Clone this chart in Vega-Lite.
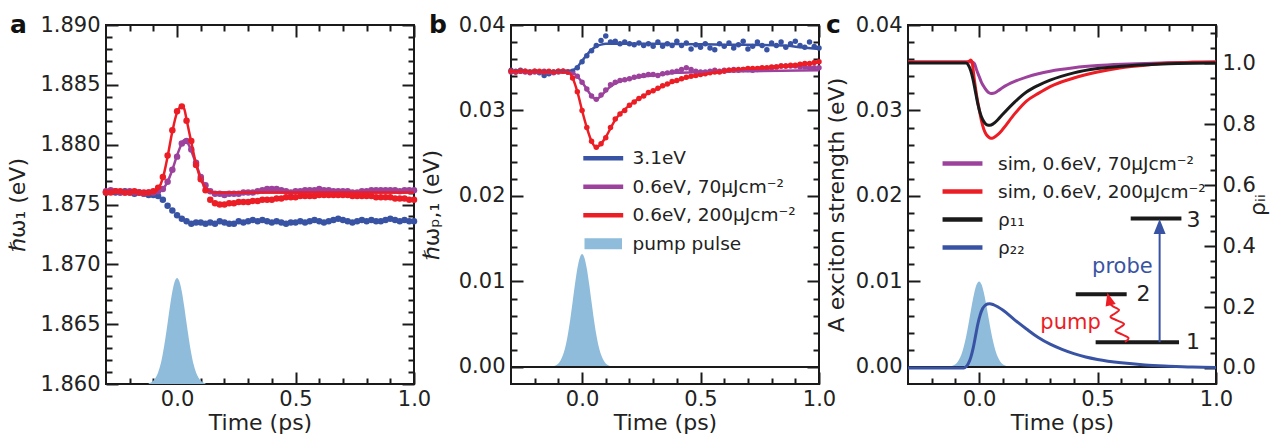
{
"$schema": "https://vega.github.io/schema/vega-lite/v6.json",
"background": "white",
"padding": {"left": 5, "right": 0, "top": 12, "bottom": 0},
"spacing": -13,
"resolve": {"scale": {"color": "independent", "fill": "independent"}, "legend": {"color": "independent", "fill": "independent"}},
"config": {
  "font": "DejaVu Sans",
  "view": {"stroke": "#1a1a1a", "strokeWidth": 2},
  "axis": {"grid": false, "domain": false, "labelFont": "DejaVu Sans", "labelFontSize": 21, "labelColor": "#222222", "titleFont": "DejaVu Sans", "titleFontSize": 22, "titleFontWeight": "normal", "titleColor": "#222222", "tickColor": "#1a1a1a", "tickWidth": 2, "labelOverlap": false, "labelFlush": false, "labelBound": false, "minExtent": 0, "labelPadding": 18},
  "legend": {"labelFont": "DejaVu Sans", "labelFontSize": 18.5, "labelColor": "#222222", "labelLimit": 400},
  "title": {"font": "DejaVu Sans", "fontSize": 25, "fontWeight": "bold", "color": "#111111", "anchor": "start", "frame": "group", "baseline": "alphabetic"}
},
"datasets": {
  "a_pulse": [
    {"t":-0.12,"v":1.86006},{"t":-0.11,"v":1.86013},{"t":-0.1,"v":1.86028},{"t":-0.09,"v":1.86054},{"t":-0.08,"v":1.86097},{"t":-0.07,"v":1.86162},{"t":-0.06,"v":1.86255},{"t":-0.05,"v":1.86373},{"t":-0.04,"v":1.86509},{"t":-0.03,"v":1.86649},{"t":-0.02,"v":1.86772},{"t":-0.01,"v":1.86856},{"t":0,"v":1.86886},
    {"t":0.01,"v":1.86856},{"t":0.02,"v":1.86772},{"t":0.03,"v":1.86649},{"t":0.04,"v":1.86509},{"t":0.05,"v":1.86373},{"t":0.06,"v":1.86255},{"t":0.07,"v":1.86162},{"t":0.08,"v":1.86097},{"t":0.09,"v":1.86054},{"t":0.1,"v":1.86028},{"t":0.11,"v":1.86013},{"t":0.12,"v":1.86006}
  ],
  "a_dots": [
    {"t":-0.3,"v":1.876,"s":"e31"},{"t":-0.28,"v":1.8761,"s":"e31"},{"t":-0.26,"v":1.876,"s":"e31"},{"t":-0.24,"v":1.876,"s":"e31"},{"t":-0.22,"v":1.8761,"s":"e31"},{"t":-0.2,"v":1.876,"s":"e31"},{"t":-0.18,"v":1.8759,"s":"e31"},{"t":-0.16,"v":1.876,"s":"e31"},{"t":-0.14,"v":1.8759,"s":"e31"},{"t":-0.12,"v":1.8758,"s":"e31"},{"t":-0.1,"v":1.8758,"s":"e31"},{"t":-0.08,"v":1.8757,"s":"e31"},{"t":-0.06,"v":1.8754,"s":"e31"},{"t":-0.04,"v":1.8749,"s":"e31"},{"t":-0.02,"v":1.8745,"s":"e31"},{"t":0,"v":1.8741,"s":"e31"},{"t":0.02,"v":1.8738,"s":"e31"},{"t":0.04,"v":1.8736,"s":"e31"},{"t":0.06,"v":1.8734,"s":"e31"},{"t":0.08,"v":1.8735,"s":"e31"},{"t":0.1,"v":1.8735,"s":"e31"},{"t":0.12,"v":1.8734,"s":"e31"},{"t":0.14,"v":1.8735,"s":"e31"},{"t":0.16,"v":1.8734,"s":"e31"},{"t":0.18,"v":1.8736,"s":"e31"},{"t":0.2,"v":1.8735,"s":"e31"},{"t":0.22,"v":1.8734,"s":"e31"},{"t":0.24,"v":1.8734,"s":"e31"},{"t":0.26,"v":1.8736,"s":"e31"},{"t":0.28,"v":1.8735,"s":"e31"},{"t":0.3,"v":1.8736,"s":"e31"},{"t":0.32,"v":1.8737,"s":"e31"},{"t":0.34,"v":1.8736,"s":"e31"},{"t":0.36,"v":1.8737,"s":"e31"},{"t":0.38,"v":1.8736,"s":"e31"},{"t":0.4,"v":1.8735,"s":"e31"},{"t":0.42,"v":1.8736,"s":"e31"},{"t":0.44,"v":1.8735,"s":"e31"},{"t":0.46,"v":1.8734,"s":"e31"},{"t":0.48,"v":1.8735,"s":"e31"},{"t":0.5,"v":1.8735,"s":"e31"},{"t":0.52,"v":1.8736,"s":"e31"},{"t":0.54,"v":1.8735,"s":"e31"},{"t":0.56,"v":1.8736,"s":"e31"},{"t":0.58,"v":1.8737,"s":"e31"},{"t":0.6,"v":1.8736,"s":"e31"},{"t":0.62,"v":1.8735,"s":"e31"},{"t":0.64,"v":1.8736,"s":"e31"},{"t":0.66,"v":1.8737,"s":"e31"},{"t":0.68,"v":1.8738,"s":"e31"},{"t":0.7,"v":1.8737,"s":"e31"},{"t":0.72,"v":1.8736,"s":"e31"},{"t":0.74,"v":1.8735,"s":"e31"},{"t":0.76,"v":1.8736,"s":"e31"},{"t":0.78,"v":1.8737,"s":"e31"},{"t":0.8,"v":1.8736,"s":"e31"},{"t":0.82,"v":1.8737,"s":"e31"},{"t":0.84,"v":1.8736,"s":"e31"},{"t":0.86,"v":1.8736,"s":"e31"},{"t":0.88,"v":1.8737,"s":"e31"},{"t":0.9,"v":1.8738,"s":"e31"},{"t":0.92,"v":1.8737,"s":"e31"},{"t":0.94,"v":1.8736,"s":"e31"},{"t":0.96,"v":1.8737,"s":"e31"},{"t":0.98,"v":1.8736,"s":"e31"},{"t":1,"v":1.8736,"s":"e31"},
    {"t":-0.3,"v":1.8761,"s":"p70"},{"t":-0.28,"v":1.8762,"s":"p70"},{"t":-0.26,"v":1.8761,"s":"p70"},{"t":-0.24,"v":1.876,"s":"p70"},{"t":-0.22,"v":1.876,"s":"p70"},{"t":-0.2,"v":1.8761,"s":"p70"},{"t":-0.18,"v":1.876,"s":"p70"},{"t":-0.16,"v":1.876,"s":"p70"},{"t":-0.14,"v":1.8759,"s":"p70"},{"t":-0.12,"v":1.876,"s":"p70"},{"t":-0.1,"v":1.876,"s":"p70"},{"t":-0.08,"v":1.8761,"s":"p70"},{"t":-0.06,"v":1.8763,"s":"p70"},{"t":-0.04,"v":1.8769,"s":"p70"},{"t":-0.02,"v":1.8779,"s":"p70"},{"t":0,"v":1.879,"s":"p70"},{"t":0.02,"v":1.8801,"s":"p70"},{"t":0.04,"v":1.8803,"s":"p70"},{"t":0.06,"v":1.8796,"s":"p70"},{"t":0.08,"v":1.8785,"s":"p70"},{"t":0.1,"v":1.8773,"s":"p70"},{"t":0.12,"v":1.8766,"s":"p70"},{"t":0.14,"v":1.8761,"s":"p70"},{"t":0.16,"v":1.8759,"s":"p70"},{"t":0.18,"v":1.8759,"s":"p70"},{"t":0.2,"v":1.8758,"s":"p70"},{"t":0.22,"v":1.8759,"s":"p70"},{"t":0.24,"v":1.8759,"s":"p70"},{"t":0.26,"v":1.8759,"s":"p70"},{"t":0.28,"v":1.876,"s":"p70"},{"t":0.3,"v":1.876,"s":"p70"},{"t":0.32,"v":1.876,"s":"p70"},{"t":0.34,"v":1.8761,"s":"p70"},{"t":0.36,"v":1.8762,"s":"p70"},{"t":0.38,"v":1.8763,"s":"p70"},{"t":0.4,"v":1.8763,"s":"p70"},{"t":0.42,"v":1.8763,"s":"p70"},{"t":0.44,"v":1.8762,"s":"p70"},{"t":0.46,"v":1.8761,"s":"p70"},{"t":0.48,"v":1.876,"s":"p70"},{"t":0.5,"v":1.8761,"s":"p70"},{"t":0.52,"v":1.8761,"s":"p70"},{"t":0.54,"v":1.8762,"s":"p70"},{"t":0.56,"v":1.8762,"s":"p70"},{"t":0.58,"v":1.8762,"s":"p70"},{"t":0.6,"v":1.8763,"s":"p70"},{"t":0.62,"v":1.8762,"s":"p70"},{"t":0.64,"v":1.8762,"s":"p70"},{"t":0.66,"v":1.8761,"s":"p70"},{"t":0.68,"v":1.8761,"s":"p70"},{"t":0.7,"v":1.8761,"s":"p70"},{"t":0.72,"v":1.8761,"s":"p70"},{"t":0.74,"v":1.876,"s":"p70"},{"t":0.76,"v":1.876,"s":"p70"},{"t":0.78,"v":1.8761,"s":"p70"},{"t":0.8,"v":1.8761,"s":"p70"},{"t":0.82,"v":1.8762,"s":"p70"},{"t":0.84,"v":1.8762,"s":"p70"},{"t":0.86,"v":1.8762,"s":"p70"},{"t":0.88,"v":1.8762,"s":"p70"},{"t":0.9,"v":1.8762,"s":"p70"},{"t":0.92,"v":1.8762,"s":"p70"},{"t":0.94,"v":1.8761,"s":"p70"},{"t":0.96,"v":1.8762,"s":"p70"},{"t":0.98,"v":1.8762,"s":"p70"},{"t":1,"v":1.8762,"s":"p70"},
    {"t":-0.3,"v":1.876,"s":"p200"},{"t":-0.28,"v":1.876,"s":"p200"},{"t":-0.26,"v":1.8761,"s":"p200"},{"t":-0.24,"v":1.8761,"s":"p200"},{"t":-0.22,"v":1.876,"s":"p200"},{"t":-0.2,"v":1.876,"s":"p200"},{"t":-0.18,"v":1.8761,"s":"p200"},{"t":-0.16,"v":1.876,"s":"p200"},{"t":-0.14,"v":1.876,"s":"p200"},{"t":-0.12,"v":1.876,"s":"p200"},{"t":-0.1,"v":1.8761,"s":"p200"},{"t":-0.08,"v":1.8764,"s":"p200"},{"t":-0.06,"v":1.8773,"s":"p200"},{"t":-0.04,"v":1.8791,"s":"p200"},{"t":-0.02,"v":1.8812,"s":"p200"},{"t":0,"v":1.8828,"s":"p200"},{"t":0.02,"v":1.8832,"s":"p200"},{"t":0.04,"v":1.882,"s":"p200"},{"t":0.06,"v":1.8803,"s":"p200"},{"t":0.08,"v":1.8783,"s":"p200"},{"t":0.1,"v":1.8771,"s":"p200"},{"t":0.12,"v":1.8762,"s":"p200"},{"t":0.14,"v":1.8754,"s":"p200"},{"t":0.16,"v":1.8751,"s":"p200"},{"t":0.18,"v":1.875,"s":"p200"},{"t":0.2,"v":1.875,"s":"p200"},{"t":0.22,"v":1.8751,"s":"p200"},{"t":0.24,"v":1.8751,"s":"p200"},{"t":0.26,"v":1.8752,"s":"p200"},{"t":0.28,"v":1.8752,"s":"p200"},{"t":0.3,"v":1.8752,"s":"p200"},{"t":0.32,"v":1.8753,"s":"p200"},{"t":0.34,"v":1.8753,"s":"p200"},{"t":0.36,"v":1.8754,"s":"p200"},{"t":0.38,"v":1.8754,"s":"p200"},{"t":0.4,"v":1.8754,"s":"p200"},{"t":0.42,"v":1.8755,"s":"p200"},{"t":0.44,"v":1.8755,"s":"p200"},{"t":0.46,"v":1.8756,"s":"p200"},{"t":0.48,"v":1.8756,"s":"p200"},{"t":0.5,"v":1.8756,"s":"p200"},{"t":0.52,"v":1.8757,"s":"p200"},{"t":0.54,"v":1.8757,"s":"p200"},{"t":0.56,"v":1.8757,"s":"p200"},{"t":0.58,"v":1.8757,"s":"p200"},{"t":0.6,"v":1.8758,"s":"p200"},{"t":0.62,"v":1.8758,"s":"p200"},{"t":0.64,"v":1.8758,"s":"p200"},{"t":0.66,"v":1.8758,"s":"p200"},{"t":0.68,"v":1.8758,"s":"p200"},{"t":0.7,"v":1.8758,"s":"p200"},{"t":0.72,"v":1.8758,"s":"p200"},{"t":0.74,"v":1.8757,"s":"p200"},{"t":0.76,"v":1.8757,"s":"p200"},{"t":0.78,"v":1.8757,"s":"p200"},{"t":0.8,"v":1.8757,"s":"p200"},{"t":0.82,"v":1.8757,"s":"p200"},{"t":0.84,"v":1.8756,"s":"p200"},{"t":0.86,"v":1.8756,"s":"p200"},{"t":0.88,"v":1.8756,"s":"p200"},{"t":0.9,"v":1.8756,"s":"p200"},{"t":0.92,"v":1.8755,"s":"p200"},{"t":0.94,"v":1.8755,"s":"p200"},{"t":0.96,"v":1.8755,"s":"p200"},{"t":0.98,"v":1.8754,"s":"p200"},{"t":1,"v":1.8754,"s":"p200"}
  ],
  "a_fit": [
    {"t":-0.3,"v":1.876,"s":"p70"},{"t":-0.1,"v":1.876,"s":"p70"},{"t":-0.08,"v":1.8761,"s":"p70"},{"t":-0.06,"v":1.8763,"s":"p70"},{"t":-0.04,"v":1.8769,"s":"p70"},{"t":-0.02,"v":1.8779,"s":"p70"},{"t":0,"v":1.8791,"s":"p70"},{"t":0.02,"v":1.8801,"s":"p70"},{"t":0.03,"v":1.8804,"s":"p70"},{"t":0.04,"v":1.8803,"s":"p70"},{"t":0.06,"v":1.8795,"s":"p70"},{"t":0.08,"v":1.8784,"s":"p70"},{"t":0.1,"v":1.8773,"s":"p70"},{"t":0.12,"v":1.8765,"s":"p70"},{"t":0.14,"v":1.8761,"s":"p70"},{"t":0.16,"v":1.876,"s":"p70"},{"t":1,"v":1.876,"s":"p70"},
    {"t":-0.3,"v":1.876,"s":"p200"},{"t":-0.1,"v":1.876,"s":"p200"},{"t":-0.08,"v":1.8763,"s":"p200"},{"t":-0.06,"v":1.8772,"s":"p200"},{"t":-0.04,"v":1.879,"s":"p200"},{"t":-0.02,"v":1.8811,"s":"p200"},{"t":0,"v":1.8827,"s":"p200"},{"t":0.02,"v":1.8832,"s":"p200"},{"t":0.03,"v":1.883,"s":"p200"},{"t":0.04,"v":1.8821,"s":"p200"},{"t":0.06,"v":1.8802,"s":"p200"},{"t":0.08,"v":1.8784,"s":"p200"},{"t":0.1,"v":1.8771,"s":"p200"},{"t":0.12,"v":1.8764,"s":"p200"},{"t":0.14,"v":1.8761,"s":"p200"},{"t":0.16,"v":1.876,"s":"p200"},{"t":1,"v":1.876,"s":"p200"}
  ],
  "b_pulse": [
    {"t":-0.12,"v":0.00009,"s":"pulse"},{"t":-0.11,"v":0.0002,"s":"pulse"},{"t":-0.1,"v":0.00041,"s":"pulse"},{"t":-0.09,"v":0.0008,"s":"pulse"},{"t":-0.08,"v":0.00144,"s":"pulse"},{"t":-0.07,"v":0.00242,"s":"pulse"},{"t":-0.06,"v":0.0038,"s":"pulse"},{"t":-0.05,"v":0.00556,"s":"pulse"},{"t":-0.04,"v":0.00759,"s":"pulse"},{"t":-0.03,"v":0.00966,"s":"pulse"},{"t":-0.02,"v":0.0115,"s":"pulse"},{"t":-0.01,"v":0.01275,"s":"pulse"},{"t":0,"v":0.0132,"s":"pulse"},
    {"t":0.01,"v":0.01275,"s":"pulse"},{"t":0.02,"v":0.0115,"s":"pulse"},{"t":0.03,"v":0.00966,"s":"pulse"},{"t":0.04,"v":0.00759,"s":"pulse"},{"t":0.05,"v":0.00556,"s":"pulse"},{"t":0.06,"v":0.0038,"s":"pulse"},{"t":0.07,"v":0.00242,"s":"pulse"},{"t":0.08,"v":0.00144,"s":"pulse"},{"t":0.09,"v":0.0008,"s":"pulse"},{"t":0.1,"v":0.00041,"s":"pulse"},{"t":0.11,"v":0.0002,"s":"pulse"},{"t":0.12,"v":0.00009,"s":"pulse"}
  ],
  "b_dots": [
    {"t":-0.3,"v":0.0347,"s":"e31"},{"t":-0.28,"v":0.0346,"s":"e31"},{"t":-0.26,"v":0.0347,"s":"e31"},{"t":-0.24,"v":0.0346,"s":"e31"},{"t":-0.22,"v":0.0345,"s":"e31"},{"t":-0.2,"v":0.0346,"s":"e31"},{"t":-0.18,"v":0.0344,"s":"e31"},{"t":-0.16,"v":0.0341,"s":"e31"},{"t":-0.14,"v":0.0343,"s":"e31"},{"t":-0.12,"v":0.0345,"s":"e31"},{"t":-0.1,"v":0.0346,"s":"e31"},{"t":-0.08,"v":0.0346,"s":"e31"},{"t":-0.06,"v":0.0345,"s":"e31"},{"t":-0.04,"v":0.0346,"s":"e31"},{"t":-0.02,"v":0.035,"s":"e31"},{"t":0,"v":0.0357,"s":"e31"},{"t":0.02,"v":0.0364,"s":"e31"},{"t":0.04,"v":0.037,"s":"e31"},{"t":0.06,"v":0.0376,"s":"e31"},{"t":0.08,"v":0.0382,"s":"e31"},{"t":0.1,"v":0.0387,"s":"e31"},{"t":0.12,"v":0.038,"s":"e31"},{"t":0.14,"v":0.0381,"s":"e31"},{"t":0.16,"v":0.0378,"s":"e31"},{"t":0.18,"v":0.038,"s":"e31"},{"t":0.2,"v":0.0378,"s":"e31"},{"t":0.22,"v":0.0377,"s":"e31"},{"t":0.24,"v":0.0379,"s":"e31"},{"t":0.26,"v":0.0376,"s":"e31"},{"t":0.28,"v":0.0378,"s":"e31"},{"t":0.3,"v":0.0375,"s":"e31"},{"t":0.32,"v":0.038,"s":"e31"},{"t":0.34,"v":0.0375,"s":"e31"},{"t":0.36,"v":0.0378,"s":"e31"},{"t":0.38,"v":0.0376,"s":"e31"},{"t":0.4,"v":0.0381,"s":"e31"},{"t":0.42,"v":0.0376,"s":"e31"},{"t":0.44,"v":0.0379,"s":"e31"},{"t":0.46,"v":0.0372,"s":"e31"},{"t":0.48,"v":0.0377,"s":"e31"},{"t":0.5,"v":0.0374,"s":"e31"},{"t":0.52,"v":0.0378,"s":"e31"},{"t":0.54,"v":0.0373,"s":"e31"},{"t":0.56,"v":0.0371,"s":"e31"},{"t":0.58,"v":0.0378,"s":"e31"},{"t":0.6,"v":0.0375,"s":"e31"},{"t":0.62,"v":0.0379,"s":"e31"},{"t":0.64,"v":0.0373,"s":"e31"},{"t":0.66,"v":0.0377,"s":"e31"},{"t":0.68,"v":0.0381,"s":"e31"},{"t":0.7,"v":0.0372,"s":"e31"},{"t":0.72,"v":0.0375,"s":"e31"},{"t":0.74,"v":0.038,"s":"e31"},{"t":0.76,"v":0.0376,"s":"e31"},{"t":0.78,"v":0.0371,"s":"e31"},{"t":0.8,"v":0.0379,"s":"e31"},{"t":0.82,"v":0.0376,"s":"e31"},{"t":0.84,"v":0.038,"s":"e31"},{"t":0.86,"v":0.0374,"s":"e31"},{"t":0.88,"v":0.0378,"s":"e31"},{"t":0.9,"v":0.0381,"s":"e31"},{"t":0.92,"v":0.0376,"s":"e31"},{"t":0.94,"v":0.0374,"s":"e31"},{"t":0.96,"v":0.038,"s":"e31"},{"t":0.98,"v":0.0375,"s":"e31"},{"t":1,"v":0.0373,"s":"e31"},
    {"t":-0.3,"v":0.0345,"s":"p70"},{"t":-0.28,"v":0.0345,"s":"p70"},{"t":-0.26,"v":0.0346,"s":"p70"},{"t":-0.24,"v":0.0345,"s":"p70"},{"t":-0.22,"v":0.0344,"s":"p70"},{"t":-0.2,"v":0.0345,"s":"p70"},{"t":-0.18,"v":0.0345,"s":"p70"},{"t":-0.16,"v":0.0346,"s":"p70"},{"t":-0.14,"v":0.0345,"s":"p70"},{"t":-0.12,"v":0.0344,"s":"p70"},{"t":-0.1,"v":0.0345,"s":"p70"},{"t":-0.08,"v":0.0346,"s":"p70"},{"t":-0.06,"v":0.0345,"s":"p70"},{"t":-0.04,"v":0.0344,"s":"p70"},{"t":-0.02,"v":0.034,"s":"p70"},{"t":0,"v":0.0333,"s":"p70"},{"t":0.02,"v":0.0325,"s":"p70"},{"t":0.04,"v":0.0317,"s":"p70"},{"t":0.06,"v":0.0313,"s":"p70"},{"t":0.08,"v":0.0318,"s":"p70"},{"t":0.1,"v":0.0324,"s":"p70"},{"t":0.12,"v":0.033,"s":"p70"},{"t":0.14,"v":0.0333,"s":"p70"},{"t":0.16,"v":0.0335,"s":"p70"},{"t":0.18,"v":0.0336,"s":"p70"},{"t":0.2,"v":0.0337,"s":"p70"},{"t":0.22,"v":0.0339,"s":"p70"},{"t":0.24,"v":0.034,"s":"p70"},{"t":0.26,"v":0.0341,"s":"p70"},{"t":0.28,"v":0.0342,"s":"p70"},{"t":0.3,"v":0.0342,"s":"p70"},{"t":0.32,"v":0.0341,"s":"p70"},{"t":0.34,"v":0.0343,"s":"p70"},{"t":0.36,"v":0.0344,"s":"p70"},{"t":0.38,"v":0.0345,"s":"p70"},{"t":0.4,"v":0.0346,"s":"p70"},{"t":0.42,"v":0.0348,"s":"p70"},{"t":0.44,"v":0.035,"s":"p70"},{"t":0.46,"v":0.0348,"s":"p70"},{"t":0.48,"v":0.0346,"s":"p70"},{"t":0.5,"v":0.0345,"s":"p70"},{"t":0.52,"v":0.0345,"s":"p70"},{"t":0.54,"v":0.0346,"s":"p70"},{"t":0.56,"v":0.0347,"s":"p70"},{"t":0.58,"v":0.0346,"s":"p70"},{"t":0.6,"v":0.0347,"s":"p70"},{"t":0.62,"v":0.0347,"s":"p70"},{"t":0.64,"v":0.0348,"s":"p70"},{"t":0.66,"v":0.0347,"s":"p70"},{"t":0.68,"v":0.0348,"s":"p70"},{"t":0.7,"v":0.0348,"s":"p70"},{"t":0.72,"v":0.0347,"s":"p70"},{"t":0.74,"v":0.0348,"s":"p70"},{"t":0.76,"v":0.0349,"s":"p70"},{"t":0.78,"v":0.0349,"s":"p70"},{"t":0.8,"v":0.035,"s":"p70"},{"t":0.82,"v":0.0351,"s":"p70"},{"t":0.84,"v":0.0352,"s":"p70"},{"t":0.86,"v":0.0352,"s":"p70"},{"t":0.88,"v":0.0352,"s":"p70"},{"t":0.9,"v":0.0352,"s":"p70"},{"t":0.92,"v":0.0351,"s":"p70"},{"t":0.94,"v":0.0351,"s":"p70"},{"t":0.96,"v":0.035,"s":"p70"},{"t":0.98,"v":0.035,"s":"p70"},{"t":1,"v":0.035,"s":"p70"},
    {"t":-0.3,"v":0.0346,"s":"p200"},{"t":-0.28,"v":0.0345,"s":"p200"},{"t":-0.26,"v":0.0346,"s":"p200"},{"t":-0.24,"v":0.0346,"s":"p200"},{"t":-0.22,"v":0.0345,"s":"p200"},{"t":-0.2,"v":0.0346,"s":"p200"},{"t":-0.18,"v":0.0346,"s":"p200"},{"t":-0.16,"v":0.0345,"s":"p200"},{"t":-0.14,"v":0.0346,"s":"p200"},{"t":-0.12,"v":0.0345,"s":"p200"},{"t":-0.1,"v":0.0346,"s":"p200"},{"t":-0.08,"v":0.0346,"s":"p200"},{"t":-0.06,"v":0.0345,"s":"p200"},{"t":-0.04,"v":0.0338,"s":"p200"},{"t":-0.02,"v":0.0322,"s":"p200"},{"t":0,"v":0.03,"s":"p200"},{"t":0.02,"v":0.028,"s":"p200"},{"t":0.04,"v":0.0264,"s":"p200"},{"t":0.06,"v":0.0257,"s":"p200"},{"t":0.08,"v":0.0261,"s":"p200"},{"t":0.1,"v":0.0268,"s":"p200"},{"t":0.12,"v":0.028,"s":"p200"},{"t":0.14,"v":0.029,"s":"p200"},{"t":0.16,"v":0.0296,"s":"p200"},{"t":0.18,"v":0.03,"s":"p200"},{"t":0.2,"v":0.0306,"s":"p200"},{"t":0.22,"v":0.031,"s":"p200"},{"t":0.24,"v":0.0314,"s":"p200"},{"t":0.26,"v":0.0317,"s":"p200"},{"t":0.28,"v":0.0321,"s":"p200"},{"t":0.3,"v":0.0323,"s":"p200"},{"t":0.32,"v":0.0326,"s":"p200"},{"t":0.34,"v":0.0329,"s":"p200"},{"t":0.36,"v":0.0331,"s":"p200"},{"t":0.38,"v":0.0334,"s":"p200"},{"t":0.4,"v":0.0335,"s":"p200"},{"t":0.42,"v":0.0337,"s":"p200"},{"t":0.44,"v":0.0339,"s":"p200"},{"t":0.46,"v":0.034,"s":"p200"},{"t":0.48,"v":0.0341,"s":"p200"},{"t":0.5,"v":0.0342,"s":"p200"},{"t":0.52,"v":0.0343,"s":"p200"},{"t":0.54,"v":0.0344,"s":"p200"},{"t":0.56,"v":0.0345,"s":"p200"},{"t":0.58,"v":0.0345,"s":"p200"},{"t":0.6,"v":0.0346,"s":"p200"},{"t":0.62,"v":0.0347,"s":"p200"},{"t":0.64,"v":0.0347,"s":"p200"},{"t":0.66,"v":0.0348,"s":"p200"},{"t":0.68,"v":0.0348,"s":"p200"},{"t":0.7,"v":0.0349,"s":"p200"},{"t":0.72,"v":0.0349,"s":"p200"},{"t":0.74,"v":0.0349,"s":"p200"},{"t":0.76,"v":0.035,"s":"p200"},{"t":0.78,"v":0.035,"s":"p200"},{"t":0.8,"v":0.0351,"s":"p200"},{"t":0.82,"v":0.0351,"s":"p200"},{"t":0.84,"v":0.0352,"s":"p200"},{"t":0.86,"v":0.0352,"s":"p200"},{"t":0.88,"v":0.0353,"s":"p200"},{"t":0.9,"v":0.0353,"s":"p200"},{"t":0.92,"v":0.0354,"s":"p200"},{"t":0.94,"v":0.0355,"s":"p200"},{"t":0.96,"v":0.0355,"s":"p200"},{"t":0.98,"v":0.0356,"s":"p200"},{"t":1,"v":0.0357,"s":"p200"}
  ],
  "b_fit": [
    {"t":-0.3,"v":0.0346,"s":"e31"},{"t":-0.06,"v":0.0346,"s":"e31"},{"t":-0.04,"v":0.0347,"s":"e31"},{"t":-0.02,"v":0.0351,"s":"e31"},{"t":0,"v":0.0358,"s":"e31"},{"t":0.02,"v":0.0365,"s":"e31"},{"t":0.04,"v":0.0371,"s":"e31"},{"t":0.06,"v":0.0375,"s":"e31"},{"t":0.08,"v":0.0377,"s":"e31"},{"t":0.1,"v":0.0378,"s":"e31"},{"t":0.3,"v":0.0378,"s":"e31"},{"t":0.6,"v":0.0377,"s":"e31"},{"t":0.85,"v":0.0376,"s":"e31"},{"t":0.92,"v":0.0374,"s":"e31"},{"t":1,"v":0.0372,"s":"e31"},
    {"t":-0.3,"v":0.0345,"s":"p70"},{"t":-0.06,"v":0.0345,"s":"p70"},{"t":-0.04,"v":0.0344,"s":"p70"},{"t":-0.02,"v":0.034,"s":"p70"},{"t":0,"v":0.0333,"s":"p70"},{"t":0.02,"v":0.0325,"s":"p70"},{"t":0.04,"v":0.0317,"s":"p70"},{"t":0.06,"v":0.0313,"s":"p70"},{"t":0.08,"v":0.0317,"s":"p70"},{"t":0.1,"v":0.0323,"s":"p70"},{"t":0.12,"v":0.0328,"s":"p70"},{"t":0.16,"v":0.0334,"s":"p70"},{"t":0.2,"v":0.0337,"s":"p70"},{"t":0.3,"v":0.0341,"s":"p70"},{"t":0.4,"v":0.0344,"s":"p70"},{"t":0.5,"v":0.0345,"s":"p70"},{"t":0.7,"v":0.0346,"s":"p70"},{"t":1,"v":0.0347,"s":"p70"},
    {"t":-0.3,"v":0.0346,"s":"p200"},{"t":-0.06,"v":0.0345,"s":"p200"},{"t":-0.04,"v":0.0338,"s":"p200"},{"t":-0.02,"v":0.0322,"s":"p200"},{"t":0,"v":0.03,"s":"p200"},{"t":0.02,"v":0.028,"s":"p200"},{"t":0.04,"v":0.0264,"s":"p200"},{"t":0.06,"v":0.0257,"s":"p200"},{"t":0.08,"v":0.0261,"s":"p200"},{"t":0.1,"v":0.0269,"s":"p200"},{"t":0.14,"v":0.0289,"s":"p200"},{"t":0.2,"v":0.0306,"s":"p200"},{"t":0.3,"v":0.0323,"s":"p200"},{"t":0.4,"v":0.0335,"s":"p200"},{"t":0.5,"v":0.0342,"s":"p200"},{"t":0.6,"v":0.0346,"s":"p200"},{"t":0.7,"v":0.0349,"s":"p200"},{"t":0.8,"v":0.0351,"s":"p200"},{"t":0.9,"v":0.0353,"s":"p200"},{"t":1,"v":0.0356,"s":"p200"}
  ],
  "c_pulse": [
    {"t":-0.12,"v":0.00007},{"t":-0.11,"v":0.00015},{"t":-0.1,"v":0.00031},{"t":-0.09,"v":0.00061},{"t":-0.08,"v":0.00109},{"t":-0.07,"v":0.00183},{"t":-0.06,"v":0.00288},{"t":-0.05,"v":0.00421},{"t":-0.04,"v":0.00575},{"t":-0.03,"v":0.00732},{"t":-0.02,"v":0.00871},{"t":-0.01,"v":0.00966},{"t":0,"v":0.01},
    {"t":0.01,"v":0.00966},{"t":0.02,"v":0.00871},{"t":0.03,"v":0.00732},{"t":0.04,"v":0.00575},{"t":0.05,"v":0.00421},{"t":0.06,"v":0.00288},{"t":0.07,"v":0.00183},{"t":0.08,"v":0.00109},{"t":0.09,"v":0.00061},{"t":0.1,"v":0.00031},{"t":0.11,"v":0.00015},{"t":0.12,"v":0.00007}
  ],
  "c_sim": [
    {"t":-0.3,"v":0.03567,"s":"s70"},{"t":-0.03,"v":0.03567,"s":"s70"},{"t":-0.02,"v":0.0355,"s":"s70"},{"t":-0.01,"v":0.0347,"s":"s70"},{"t":0,"v":0.034,"s":"s70"},{"t":0.01,"v":0.0333,"s":"s70"},{"t":0.02,"v":0.0328,"s":"s70"},{"t":0.03,"v":0.0324,"s":"s70"},{"t":0.04,"v":0.0321,"s":"s70"},{"t":0.05,"v":0.032,"s":"s70"},{"t":0.06,"v":0.03202,"s":"s70"},{"t":0.08,"v":0.0323,"s":"s70"},{"t":0.1,"v":0.0327,"s":"s70"},{"t":0.15,"v":0.0334,"s":"s70"},{"t":0.2,"v":0.0339,"s":"s70"},{"t":0.25,"v":0.0343,"s":"s70"},{"t":0.3,"v":0.0346,"s":"s70"},{"t":0.4,"v":0.035,"s":"s70"},{"t":0.5,"v":0.03525,"s":"s70"},{"t":0.6,"v":0.0354,"s":"s70"},{"t":0.7,"v":0.0355,"s":"s70"},{"t":0.8,"v":0.03558,"s":"s70"},{"t":0.9,"v":0.03563,"s":"s70"},{"t":1,"v":0.03567,"s":"s70"},
    {"t":-0.3,"v":0.03567,"s":"s200"},{"t":-0.05,"v":0.03567,"s":"s200"},{"t":-0.04,"v":0.0358,"s":"s200"},{"t":-0.035,"v":0.0359,"s":"s200"},{"t":-0.03,"v":0.0357,"s":"s200"},{"t":-0.02,"v":0.0336,"s":"s200"},{"t":-0.01,"v":0.0317,"s":"s200"},{"t":0,"v":0.0302,"s":"s200"},{"t":0.01,"v":0.0288,"s":"s200"},{"t":0.02,"v":0.0278,"s":"s200"},{"t":0.03,"v":0.0272,"s":"s200"},{"t":0.04,"v":0.0269,"s":"s200"},{"t":0.05,"v":0.02675,"s":"s200"},{"t":0.06,"v":0.0268,"s":"s200"},{"t":0.08,"v":0.0272,"s":"s200"},{"t":0.1,"v":0.0278,"s":"s200"},{"t":0.15,"v":0.0296,"s":"s200"},{"t":0.2,"v":0.0311,"s":"s200"},{"t":0.25,"v":0.032,"s":"s200"},{"t":0.3,"v":0.0328,"s":"s200"},{"t":0.4,"v":0.0338,"s":"s200"},{"t":0.5,"v":0.0345,"s":"s200"},{"t":0.6,"v":0.035,"s":"s200"},{"t":0.7,"v":0.0353,"s":"s200"},{"t":0.8,"v":0.03555,"s":"s200"},{"t":0.9,"v":0.03563,"s":"s200"},{"t":1,"v":0.03567,"s":"s200"}
  ],
  "c_rho": [
    {"t":-0.3,"v":1,"s":"r11"},{"t":-0.055,"v":1,"s":"r11"},{"t":-0.045,"v":0.993,"s":"r11"},{"t":-0.035,"v":0.975,"s":"r11"},{"t":-0.025,"v":0.945,"s":"r11"},{"t":-0.015,"v":0.905,"s":"r11"},{"t":-0.005,"v":0.865,"s":"r11"},{"t":0.005,"v":0.835,"s":"r11"},{"t":0.015,"v":0.815,"s":"r11"},{"t":0.025,"v":0.803,"s":"r11"},{"t":0.035,"v":0.797,"s":"r11"},{"t":0.045,"v":0.796,"s":"r11"},{"t":0.06,"v":0.801,"s":"r11"},{"t":0.08,"v":0.815,"s":"r11"},{"t":0.1,"v":0.832,"s":"r11"},{"t":0.15,"v":0.872,"s":"r11"},{"t":0.2,"v":0.905,"s":"r11"},{"t":0.25,"v":0.927,"s":"r11"},{"t":0.3,"v":0.944,"s":"r11"},{"t":0.4,"v":0.968,"s":"r11"},{"t":0.5,"v":0.982,"s":"r11"},{"t":0.6,"v":0.99,"s":"r11"},{"t":0.7,"v":0.995,"s":"r11"},{"t":0.8,"v":0.998,"s":"r11"},{"t":1,"v":1,"s":"r11"},
    {"t":-0.3,"v":0,"s":"r22"},{"t":-0.065,"v":0,"s":"r22"},{"t":-0.055,"v":0.004,"s":"r22"},{"t":-0.045,"v":0.015,"s":"r22"},{"t":-0.035,"v":0.035,"s":"r22"},{"t":-0.025,"v":0.065,"s":"r22"},{"t":-0.015,"v":0.105,"s":"r22"},{"t":-0.005,"v":0.145,"s":"r22"},{"t":0.005,"v":0.175,"s":"r22"},{"t":0.015,"v":0.195,"s":"r22"},{"t":0.025,"v":0.205,"s":"r22"},{"t":0.035,"v":0.21,"s":"r22"},{"t":0.045,"v":0.211,"s":"r22"},{"t":0.06,"v":0.208,"s":"r22"},{"t":0.08,"v":0.2,"s":"r22"},{"t":0.1,"v":0.19,"s":"r22"},{"t":0.15,"v":0.158,"s":"r22"},{"t":0.2,"v":0.128,"s":"r22"},{"t":0.25,"v":0.1,"s":"r22"},{"t":0.3,"v":0.078,"s":"r22"},{"t":0.35,"v":0.061,"s":"r22"},{"t":0.4,"v":0.047,"s":"r22"},{"t":0.45,"v":0.036,"s":"r22"},{"t":0.5,"v":0.028,"s":"r22"},{"t":0.6,"v":0.017,"s":"r22"},{"t":0.7,"v":0.01,"s":"r22"},{"t":0.8,"v":0.006,"s":"r22"},{"t":0.9,"v":0.003,"s":"r22"},{"t":1,"v":0.002,"s":"r22"}
  ],
  "c_levels": [
    {"t0":0.64,"t1":0.854,"v":0.01735},{"t0":0.408,"t1":0.623,"v":0.0085},{"t0":0.492,"t1":0.844,"v":0.00289}
  ],
  "c_levelnames": [
    {"t":0.875,"v":0.01637,"label":"3"},{"t":0.664,"v":0.00772,"label":"2"},{"t":0.873,"v":0.00207,"label":"1"}
  ],
  "c_wave": [
    {"i":0,"t":0.6159,"v":0.00292},{"i":1,"t":0.6307,"v":0.00339},{"i":2,"t":0.6033,"v":0.0038},{"i":3,"t":0.5758,"v":0.00421},{"i":4,"t":0.5948,"v":0.00462},{"i":5,"t":0.6117,"v":0.00503},{"i":6,"t":0.5821,"v":0.00544},{"i":7,"t":0.5547,"v":0.00585},{"i":8,"t":0.5737,"v":0.00626},{"i":9,"t":0.5906,"v":0.00667},{"i":10,"t":0.5653,"v":0.00708},{"i":11,"t":0.5526,"v":0.00737}
  ]
},
"hconcat": [
  {
    "width": 308, "height": 359,
    "title": {"text": "a", "dx": -96, "offset": -24},
    "resolve": {"axis": {"x": "independent", "y": "independent"}},
    "layer": [
      {"data": {"name": "a_pulse"}, "mark": {"type": "area", "color": "#8fbcdb", "opacity": 1, "interpolate": "monotone"},
       "encoding": {
         "x": {"field": "t", "type": "quantitative", "scale": {"domain": [-0.3, 1.0], "nice": false, "zero": false},
               "axis": {"orient": "bottom", "title": "Time (ps)", "values": [-0.2,-0.1,0,0.1,0.2,0.3,0.4,0.5,0.6,0.7,0.8,0.9,1], "format": ".1f", "labelExpr": "abs(datum.value*2-round(datum.value*2))<0.001 ? datum.label : ''", "tickSize": {"condition": {"test": "abs(datum.value*2-round(datum.value*2))<0.001", "value": -12}, "value": -6}, "labelPadding": 16, "titlePadding": -3}},
         "y": {"field": "v", "type": "quantitative", "scale": {"domain": [1.86, 1.89], "nice": false, "zero": false},
               "axis": {"orient": "left", "title": "ℏω₁ (eV)", "values": [1.86,1.861,1.862,1.863,1.864,1.865,1.866,1.867,1.868,1.869,1.87,1.871,1.872,1.873,1.874,1.875,1.876,1.877,1.878,1.879,1.88,1.881,1.882,1.883,1.884,1.885,1.886,1.887,1.888,1.889,1.89], "format": ".3f", "labelExpr": "abs(datum.value*200-round(datum.value*200))<0.01 ? datum.label : ''", "tickSize": {"condition": {"test": "abs(datum.value*200-round(datum.value*200))<0.01", "value": -12}, "value": -6}, "titlePadding": 10}},
         "y2": {"datum": 1.86}
       }},
      {"data": {"name": "a_dots"}, "mark": {"type": "circle", "size": 42, "opacity": 1},
       "encoding": {
         "x": {"field": "t", "type": "quantitative", "scale": {"domain": [-0.3, 1.0], "nice": false, "zero": false}, "axis": null},
         "y": {"field": "v", "type": "quantitative", "scale": {"domain": [1.86, 1.89], "nice": false, "zero": false}, "axis": null},
         "fill": {"field": "s", "type": "nominal", "scale": {"domain": ["e31", "p70", "p200"], "range": ["#3953a4", "#9c429c", "#ec1d25"]}, "legend": null}
       }},
      {"data": {"name": "a_fit"}, "mark": {"type": "line", "strokeWidth": 2.5, "interpolate": "monotone"},
       "encoding": {
         "x": {"field": "t", "type": "quantitative", "scale": {"domain": [-0.3, 1.0], "nice": false, "zero": false},
               "axis": {"orient": "top", "title": null, "labels": false, "values": [-0.2,-0.1,0,0.1,0.2,0.3,0.4,0.5,0.6,0.7,0.8,0.9,1], "tickSize": {"condition": {"test": "abs(datum.value*2-round(datum.value*2))<0.001", "value": -12}, "value": -6}}},
         "y": {"field": "v", "type": "quantitative", "scale": {"domain": [1.86, 1.89], "nice": false, "zero": false},
               "axis": {"orient": "right", "title": null, "labels": false, "values": [1.86,1.861,1.862,1.863,1.864,1.865,1.866,1.867,1.868,1.869,1.87,1.871,1.872,1.873,1.874,1.875,1.876,1.877,1.878,1.879,1.88,1.881,1.882,1.883,1.884,1.885,1.886,1.887,1.888,1.889,1.89], "tickSize": {"condition": {"test": "abs(datum.value*200-round(datum.value*200))<0.01", "value": -12}, "value": -6}}},
         "color": {"field": "s", "type": "nominal", "scale": {"domain": ["p70", "p200"], "range": ["#9c429c", "#ec1d25"]}, "legend": null}
       }}
    ]
  },
  {
    "width": 308, "height": 359,
    "title": {"text": "b", "dx": -82, "offset": -24},
    "resolve": {"axis": {"x": "independent", "y": "independent"}},
    "layer": [
      {"data": {"name": "b_pulse"}, "mark": {"type": "area", "opacity": 1, "interpolate": "monotone"},
       "encoding": {
         "x": {"field": "t", "type": "quantitative", "scale": {"domain": [-0.3, 1.0], "nice": false, "zero": false},
               "axis": {"orient": "bottom", "title": "Time (ps)", "values": [-0.2,-0.1,0,0.1,0.2,0.3,0.4,0.5,0.6,0.7,0.8,0.9,1], "format": ".1f", "labelExpr": "abs(datum.value*2-round(datum.value*2))<0.001 ? datum.label : ''", "tickSize": {"condition": {"test": "abs(datum.value*2-round(datum.value*2))<0.001", "value": -12}, "value": -6}, "labelPadding": 16, "titlePadding": -3}},
         "y": {"field": "v", "type": "quantitative", "scale": {"domain": [-0.002, 0.04], "nice": false, "zero": false},
               "axis": {"orient": "left", "title": "ℏωₚ,₁ (eV)", "values": [0,0.002,0.004,0.006,0.008,0.01,0.012,0.014,0.016,0.018,0.02,0.022,0.024,0.026,0.028,0.03,0.032,0.034,0.036,0.038,0.04], "format": ".2f", "labelExpr": "abs(datum.value*100-round(datum.value*100))<0.01 ? datum.label : ''", "tickSize": {"condition": {"test": "abs(datum.value*100-round(datum.value*100))<0.01", "value": -12}, "value": -6}, "titlePadding": 15}},
         "y2": {"datum": 0},
         "color": {"field": "s", "type": "nominal", "scale": {"domain": ["e31", "p70", "p200", "pulse"], "range": ["#3953a4", "#9c429c", "#ec1d25", "#8fbcdb"]},
                   "legend": {"orient": "none", "legendX": 83, "legendY": 124, "title": null, "symbolType": "M-1.33,0H1.33", "symbolSize": 900, "symbolStrokeWidth": 4.5, "labelOffset": 20, "padding": 0, "rowPadding": 9.5,
                              "labelExpr": "datum.value==='e31' ? '3.1eV' : datum.value==='p70' ? '0.6eV, 70μJcm⁻²' : datum.value==='p200' ? '0.6eV, 200μJcm⁻²' : 'pump pulse'",
                              "encode": {"symbols": {"update": {"shape": {"signal": "datum.value==='pulse' ? 'M-1.25,-0.37H1.25V0.37H-1.25Z' : 'M-1.33,0H1.33'"}, "fill": {"signal": "datum.value==='pulse' ? '#8fbcdb' : 'transparent'"}, "strokeWidth": {"signal": "datum.value==='pulse' ? 0 : 4.5"}, "opacity": {"value": 1}}}}}}
       }},
      {"data": {"values": [{"z": 0}]}, "mark": {"type": "rule", "color": "#1a1a1a", "strokeWidth": 2},
       "encoding": {"y": {"field": "z", "type": "quantitative", "scale": {"domain": [-0.002, 0.04], "nice": false, "zero": false}, "axis": null}}},
      {"data": {"name": "b_dots"}, "mark": {"type": "circle", "size": 30, "opacity": 1},
       "encoding": {
         "x": {"field": "t", "type": "quantitative", "scale": {"domain": [-0.3, 1.0], "nice": false, "zero": false}, "axis": null},
         "y": {"field": "v", "type": "quantitative", "scale": {"domain": [-0.002, 0.04], "nice": false, "zero": false}, "axis": null},
         "fill": {"field": "s", "type": "nominal", "scale": {"domain": ["e31", "p70", "p200"], "range": ["#3953a4", "#9c429c", "#ec1d25"]}, "legend": null}
       }},
      {"data": {"name": "b_fit"}, "mark": {"type": "line", "strokeWidth": 2.5, "interpolate": "monotone"},
       "encoding": {
         "x": {"field": "t", "type": "quantitative", "scale": {"domain": [-0.3, 1.0], "nice": false, "zero": false},
               "axis": {"orient": "top", "title": null, "labels": false, "values": [-0.2,-0.1,0,0.1,0.2,0.3,0.4,0.5,0.6,0.7,0.8,0.9,1], "tickSize": {"condition": {"test": "abs(datum.value*2-round(datum.value*2))<0.001", "value": -12}, "value": -6}}},
         "y": {"field": "v", "type": "quantitative", "scale": {"domain": [-0.002, 0.04], "nice": false, "zero": false},
               "axis": {"orient": "right", "title": null, "labels": false, "values": [0,0.002,0.004,0.006,0.008,0.01,0.012,0.014,0.016,0.018,0.02,0.022,0.024,0.026,0.028,0.03,0.032,0.034,0.036,0.038,0.04], "tickSize": {"condition": {"test": "abs(datum.value*100-round(datum.value*100))<0.01", "value": -12}, "value": -6}}},
         "color": {"field": "s", "type": "nominal", "scale": {"domain": ["e31", "p70", "p200", "pulse"], "range": ["#3953a4", "#9c429c", "#ec1d25", "#8fbcdb"]},
                   "legend": {"orient": "none", "legendX": 83, "legendY": 124, "title": null, "symbolType": "M-1.33,0H1.33", "symbolSize": 900, "symbolStrokeWidth": 4.5, "labelOffset": 20, "padding": 0, "rowPadding": 9.5,
                              "labelExpr": "datum.value==='e31' ? '3.1eV' : datum.value==='p70' ? '0.6eV, 70μJcm⁻²' : datum.value==='p200' ? '0.6eV, 200μJcm⁻²' : 'pump pulse'",
                              "encode": {"symbols": {"update": {"shape": {"signal": "datum.value==='pulse' ? 'M-1.25,-0.37H1.25V0.37H-1.25Z' : 'M-1.33,0H1.33'"}, "fill": {"signal": "datum.value==='pulse' ? '#8fbcdb' : 'transparent'"}, "strokeWidth": {"signal": "datum.value==='pulse' ? 0 : 4.5"}, "opacity": {"value": 1}}}}}}
       }}
    ]
  },
  {
    "width": 308, "height": 359,
    "title": {"text": "c", "dx": -82, "offset": -24},
    "resolve": {"scale": {"y": "independent"}, "axis": {"x": "independent", "y": "independent"}},
    "layer": [
      {"data": {"name": "c_pulse"}, "mark": {"type": "area", "color": "#8fbcdb", "opacity": 1, "interpolate": "monotone"},
       "encoding": {
         "x": {"field": "t", "type": "quantitative", "scale": {"domain": [-0.3, 1.0], "nice": false, "zero": false},
               "axis": {"orient": "bottom", "title": "Time (ps)", "values": [-0.2,-0.1,0,0.1,0.2,0.3,0.4,0.5,0.6,0.7,0.8,0.9,1], "format": ".1f", "labelExpr": "abs(datum.value*2-round(datum.value*2))<0.001 ? datum.label : ''", "tickSize": {"condition": {"test": "abs(datum.value*2-round(datum.value*2))<0.001", "value": -12}, "value": -6}, "labelPadding": 16, "titlePadding": -3}},
         "y": {"field": "v", "type": "quantitative", "scale": {"domain": [-0.002, 0.04], "nice": false, "zero": false},
               "axis": {"orient": "left", "title": "A exciton strength (eV)", "values": [0,0.002,0.004,0.006,0.008,0.01,0.012,0.014,0.016,0.018,0.02,0.022,0.024,0.026,0.028,0.03,0.032,0.034,0.036,0.038,0.04], "format": ".2f", "labelExpr": "abs(datum.value*100-round(datum.value*100))<0.01 ? datum.label : ''", "tickSize": {"condition": {"test": "abs(datum.value*100-round(datum.value*100))<0.01", "value": -12}, "value": -6}, "titlePadding": 7}},
         "y2": {"datum": 0}
       }},
      {"data": {"values": [{"z": 0}]}, "mark": {"type": "rule", "color": "#1a1a1a", "strokeWidth": 2},
       "encoding": {"y": {"field": "z", "type": "quantitative", "scale": {"domain": [-0.002, 0.04], "nice": false, "zero": false}, "axis": null}}},
      {"data": {"name": "c_sim"}, "mark": {"type": "line", "strokeWidth": 3, "interpolate": "monotone"},
       "encoding": {
         "x": {"field": "t", "type": "quantitative", "scale": {"domain": [-0.3, 1.0], "nice": false, "zero": false},
               "axis": {"orient": "top", "title": null, "labels": false, "values": [-0.2,-0.1,0,0.1,0.2,0.3,0.4,0.5,0.6,0.7,0.8,0.9,1], "tickSize": {"condition": {"test": "abs(datum.value*2-round(datum.value*2))<0.001", "value": -12}, "value": -6}}},
         "y": {"field": "v", "type": "quantitative", "scale": {"domain": [-0.002, 0.04], "nice": false, "zero": false}, "axis": null},
         "color": {"field": "s", "type": "nominal", "scale": {"domain": ["s70", "s200", "r11", "r22"], "range": ["#9c429c", "#ec1d25", "#1a1a1a", "#3953a4"]},
                   "legend": {"orient": "none", "legendX": 37, "legendY": 121, "title": null, "symbolType": "M-1.33,0H1.33", "symbolSize": 900, "symbolStrokeWidth": 4.5, "labelOffset": 18, "padding": 0, "rowPadding": 1,
                              "labelExpr": "datum.value==='s70' ? 'sim, 0.6eV, 70μJcm⁻²' : datum.value==='s200' ? 'sim, 0.6eV, 200μJcm⁻²' : datum.value==='r11' ? 'ρ₁₁' : 'ρ₂₂'",
                              "encode": {"symbols": {"update": {"strokeWidth": {"value": 4.5}, "opacity": {"value": 1}}}}}}
       }},
      {"data": {"name": "c_rho"}, "mark": {"type": "line", "strokeWidth": 3, "interpolate": "monotone"},
       "encoding": {
         "x": {"field": "t", "type": "quantitative", "scale": {"domain": [-0.3, 1.0], "nice": false, "zero": false}, "axis": null},
         "y": {"field": "v", "type": "quantitative", "scale": {"domain": [-0.0525, 1.125], "nice": false, "zero": false},
               "axis": {"orient": "right", "title": "ρᵢᵢ", "titleAngle": 270, "titlePadding": 14, "values": [0,0.05,0.1,0.15,0.2,0.25,0.3,0.35,0.4,0.45,0.5,0.55,0.6,0.65,0.7,0.75,0.8,0.85,0.9,0.95,1,1.05,1.1], "format": ".1f", "labelExpr": "abs(datum.value*5-round(datum.value*5))<0.01 ? datum.label : ''", "tickSize": {"condition": {"test": "abs(datum.value*5-round(datum.value*5))<0.01", "value": -12}, "value": -6}}},
         "color": {"field": "s", "type": "nominal", "scale": {"domain": ["s70", "s200", "r11", "r22"], "range": ["#9c429c", "#ec1d25", "#1a1a1a", "#3953a4"]},
                   "legend": {"orient": "none", "legendX": 37, "legendY": 121, "title": null, "symbolType": "M-1.33,0H1.33", "symbolSize": 900, "symbolStrokeWidth": 4.5, "labelOffset": 18, "padding": 0, "rowPadding": 1,
                              "labelExpr": "datum.value==='s70' ? 'sim, 0.6eV, 70μJcm⁻²' : datum.value==='s200' ? 'sim, 0.6eV, 200μJcm⁻²' : datum.value==='r11' ? 'ρ₁₁' : 'ρ₂₂'",
                              "encode": {"symbols": {"update": {"strokeWidth": {"value": 4.5}, "opacity": {"value": 1}}}}}}
       }},
      {"data": {"name": "c_levels"}, "mark": {"type": "rule", "color": "#1a1a1a", "strokeWidth": 4},
       "encoding": {
         "x": {"field": "t0", "type": "quantitative", "scale": {"domain": [-0.3, 1.0], "nice": false, "zero": false}, "axis": null},
         "x2": {"field": "t1"},
         "y": {"field": "v", "type": "quantitative", "scale": {"domain": [-0.002, 0.04], "nice": false, "zero": false}, "axis": null}
       }},
      {"data": {"name": "c_levelnames"}, "mark": {"type": "text", "align": "left", "baseline": "alphabetic", "fontSize": 22, "font": "DejaVu Sans", "color": "#222222"},
       "encoding": {
         "x": {"field": "t", "type": "quantitative", "scale": {"domain": [-0.3, 1.0], "nice": false, "zero": false}, "axis": null},
         "y": {"field": "v", "type": "quantitative", "scale": {"domain": [-0.002, 0.04], "nice": false, "zero": false}, "axis": null},
         "text": {"field": "label"}
       }},
      {"data": {"values": [{"t": 0.605, "v": 0.01103, "label": "probe"}]}, "mark": {"type": "text", "align": "center", "baseline": "alphabetic", "fontSize": 21, "font": "DejaVu Sans", "color": "#3953a4"},
       "encoding": {
         "x": {"field": "t", "type": "quantitative", "scale": {"domain": [-0.3, 1.0], "nice": false, "zero": false}, "axis": null},
         "y": {"field": "v", "type": "quantitative", "scale": {"domain": [-0.002, 0.04], "nice": false, "zero": false}, "axis": null},
         "text": {"field": "label"}
       }},
      {"data": {"values": [{"t": 0.386, "v": 0.00441, "label": "pump"}]}, "mark": {"type": "text", "align": "center", "baseline": "alphabetic", "fontSize": 21, "font": "DejaVu Sans", "color": "#ec1d25"},
       "encoding": {
         "x": {"field": "t", "type": "quantitative", "scale": {"domain": [-0.3, 1.0], "nice": false, "zero": false}, "axis": null},
         "y": {"field": "v", "type": "quantitative", "scale": {"domain": [-0.002, 0.04], "nice": false, "zero": false}, "axis": null},
         "text": {"field": "label"}
       }},
      {"data": {"values": [{"t": 0.762, "v0": 0.00289, "v1": 0.016}]}, "mark": {"type": "rule", "color": "#3953a4", "strokeWidth": 2},
       "encoding": {
         "x": {"field": "t", "type": "quantitative", "scale": {"domain": [-0.3, 1.0], "nice": false, "zero": false}, "axis": null},
         "y": {"field": "v0", "type": "quantitative", "scale": {"domain": [-0.002, 0.04], "nice": false, "zero": false}, "axis": null},
         "y2": {"field": "v1"}
       }},
      {"data": {"values": [{"t": 0.762, "v": 0.01643}]}, "mark": {"type": "point", "shape": "M0,-1L0.8,1L-0.8,1Z", "size": 225, "filled": true, "color": "#3953a4", "opacity": 1},
       "encoding": {
         "x": {"field": "t", "type": "quantitative", "scale": {"domain": [-0.3, 1.0], "nice": false, "zero": false}, "axis": null},
         "y": {"field": "v", "type": "quantitative", "scale": {"domain": [-0.002, 0.04], "nice": false, "zero": false}, "axis": null}
       }},
      {"data": {"name": "c_wave"}, "mark": {"type": "line", "color": "#ec1d25", "strokeWidth": 2, "interpolate": "cardinal"},
       "encoding": {
         "x": {"field": "t", "type": "quantitative", "scale": {"domain": [-0.3, 1.0], "nice": false, "zero": false}, "axis": null},
         "y": {"field": "v", "type": "quantitative", "scale": {"domain": [-0.002, 0.04], "nice": false, "zero": false}, "axis": null},
         "order": {"field": "i", "type": "quantitative"}
       }},
      {"data": {"values": [{"t": 0.5484, "v": 0.00795}]}, "mark": {"type": "point", "shape": "M0,-1L0.8,1L-0.8,1Z", "size": 170, "filled": true, "color": "#ec1d25", "opacity": 1, "angle": -15},
       "encoding": {
         "x": {"field": "t", "type": "quantitative", "scale": {"domain": [-0.3, 1.0], "nice": false, "zero": false}, "axis": null},
         "y": {"field": "v", "type": "quantitative", "scale": {"domain": [-0.002, 0.04], "nice": false, "zero": false}, "axis": null}
       }}
    ]
  }
]
}
